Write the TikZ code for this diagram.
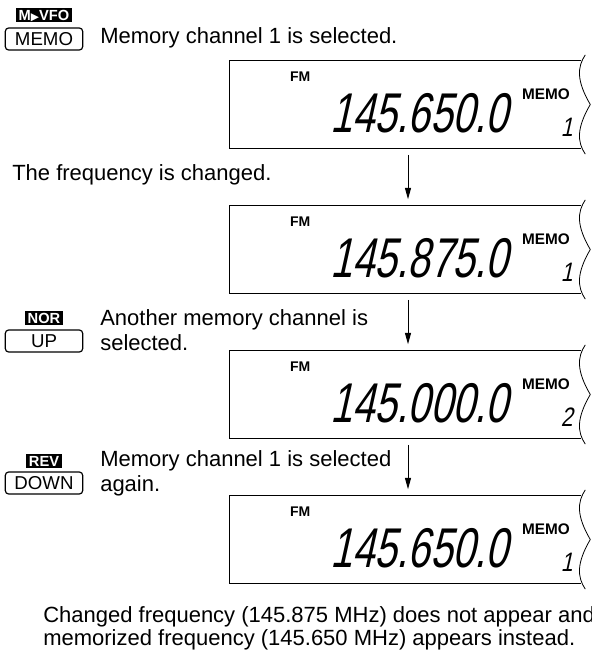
\documentclass[tikz,border=0pt]{standalone}
\usepackage{fontspec}
\setmainfont{Liberation Sans}
\newfontfamily\symfont{DejaVu Sans}
\usetikzlibrary{arrows.meta,positioning,calc}

\begin{document}
\begin{tikzpicture}[x=0.75pt,y=-0.75pt,
  desc/.style={anchor=west,inner sep=0pt,align=left,font=\fontsize{16.5}{18.5}\selectfont},
  keycap/.style={draw,line width=0.9pt,rounded corners=2.5pt,minimum width=58pt,minimum height=16.5pt,inner sep=0pt,font=\fontsize{14}{14}\selectfont},
  tag/.style={fill=black,text=white,inner xsep=2pt,inner ysep=1pt,text height=8pt,text depth=0pt,font=\fontsize{11}{11}\selectfont\bfseries},
  lcd/.style={minimum width=267pt,minimum height=65pt,inner sep=0pt},
  seg/.style={inner sep=0pt,xslant=0.22,transform shape},
  arr/.style={-{Triangle[length=8.5pt,width=4.5pt]},line width=0.75pt,shorten <=5pt,shorten >=5pt}]
  \useasboundingbox (0,0) rectangle (592,653);
  % keys and what they do
  \node[tag] (vfo) at (44,15) {M{\symfont\fontsize{8}{8}\selectfont ▶}VFO};
  \node[keycap] (memo) at (44,39) {MEMO};
  \node[desc] (t1) at (100,38) {Memory channel 1 is selected.};
  \node[desc] (t2) at (12,175) {The frequency is changed.};
  \node[tag] (nor) at (44,318) {NOR};
  \node[keycap] (up) at (44,341) {UP};
  \node[desc] (t3) at (100,330) {Another memory channel is\\selected.};
  \node[tag] (rev) at (44,461) {REV};
  \node[keycap] (down) at (44,483) {DOWN};
  \node[desc] (t4) at (100,473) {Memory channel 1 is selected\\again.};
  % displays
  \node[lcd] (lcd1) at (408,104.5) {}; \node[lcd] (lcd2) at (408,249.5) {};
  \node[lcd] (lcd3) at (408,394.5) {}; \node[lcd] (lcd4) at (408,539.5) {};
  \foreach \i/\f/\c in {1/145.650.0/1,2/145.875.0/1,3/145.000.0/2,4/145.650.0/1} {
    \draw[line width=0.8pt] ($(lcd\i.north east)+(-5,0)$) -- (lcd\i.north west) -- (lcd\i.south west) -- ($(lcd\i.south east)+(-5,0)$);
    \draw[line width=0.6pt] ($(lcd\i.north east)+(-1,-6)$) .. controls +(-8,12) and +(-14,-24) .. ($(lcd\i.east)+(4,0)$) .. controls +(-14,24) and +(-8,-12) .. ($(lcd\i.south east)+(-1,6)$);
    \node[anchor=west,inner sep=0pt,font=\fontsize{10.5}{10.5}\selectfont\bfseries] (fm\i) at ($(lcd\i.north west)+(60,16)$) {FM};
    \node[seg,anchor=base west,font=\fontsize{30}{30}\selectfont] (frq\i) at ($(lcd\i.north west)+(100,72)$) {\scalebox{1}[1.4]{\f}};
    \node[anchor=west,inner sep=0pt,font=\fontsize{11.5}{11.5}\selectfont\bfseries] (mm\i) at ($(lcd\i.north west)+(292,33)$) {MEMO};
    \node[seg,anchor=base,font=\fontsize{16}{16}\selectfont] (ch\i) at ($(lcd\i.north west)+(337,76)$) {\scalebox{1}[1.25]{\c}};
  }
  \draw[arr] (lcd1) -- (lcd2); \draw[arr] (lcd2) -- (lcd3); \draw[arr] (lcd3) -- (lcd4);
  \node[desc,font=\fontsize{16.5}{17.25}\selectfont] (note) at (43,628) {Changed frequency (145.875 MHz) does not appear and\\memorized frequency (145.650 MHz) appears instead.};
\end{tikzpicture}
\end{document}
